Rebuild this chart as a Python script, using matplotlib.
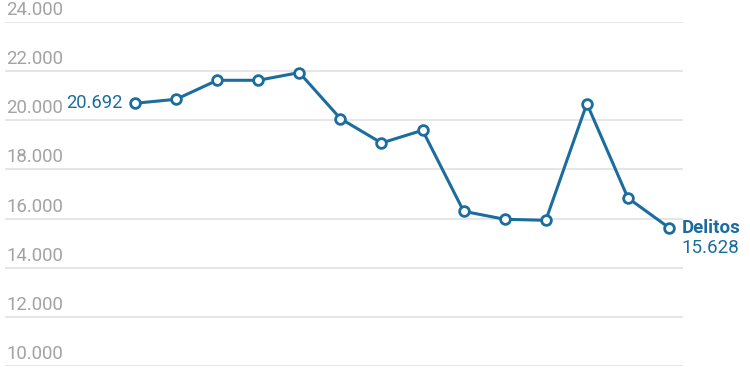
import matplotlib
matplotlib.use("Agg")
import matplotlib.pyplot as plt

# Data
periods = list(range(14))
delitos = [20692, 20855, 21628, 21628, 21941, 20069, 19076, 19593,
           16297, 15971, 15930, 20680, 16838, 15628]
y_ticks = [10000, 12000, 14000, 16000, 18000, 20000, 22000, 24000]
series_name = "Delitos"


def fmt(v):
    # Spanish thousands separator
    return "{:,}".format(v).replace(",", ".")


blue = "#1b6d9e"
grey_text = "#a3a3a3"
grid_col = "#e4e4e4"

plt.rcParams['font.family'] = ['Roboto', 'DejaVu Sans']

fig = plt.figure(figsize=(7.5, 3.75), dpi=100)
ax = fig.add_axes([5 / 750, 9 / 375, 678 / 750, 344 / 375])

ax.set_xlim(-3.165, 13.34)
ax.set_ylim(y_ticks[0], y_ticks[-1])

# Gridlines + labels sitting above them
for t in y_ticks:
    ax.axhline(t, color=grid_col, lw=1.3, zorder=0)
    ax.annotate(fmt(t), xy=(0, t), xycoords=("axes fraction", "data"),
                xytext=(1, 5), textcoords="offset points",
                ha="left", va="baseline", fontsize=13.4, color=grey_text,
                annotation_clip=False)

# Line with hollow markers
ax.plot(periods, delitos, color=blue, lw=2.2, marker="o", markersize=7,
        markerfacecolor="white", markeredgecolor=blue, markeredgewidth=2,
        zorder=3)

# First value label
ax.annotate(fmt(delitos[0]), xy=(periods[0], delitos[0]),
            xytext=(-9, 0), textcoords="offset points",
            ha="right", va="center", fontsize=13.2, color=blue)

# Last value label
ax.annotate(series_name, xy=(periods[-1], delitos[-1]),
            xytext=(9, 0), textcoords="offset points",
            ha="left", va="center", fontsize=13.5, color=blue,
            fontweight="bold", annotation_clip=False)
ax.annotate(fmt(delitos[-1]), xy=(periods[-1], delitos[-1]),
            xytext=(9, -14.5), textcoords="offset points",
            ha="left", va="center", fontsize=13.5, color=blue,
            annotation_clip=False)

ax.axis("off")

fig.savefig("out.png", dpi=100)
